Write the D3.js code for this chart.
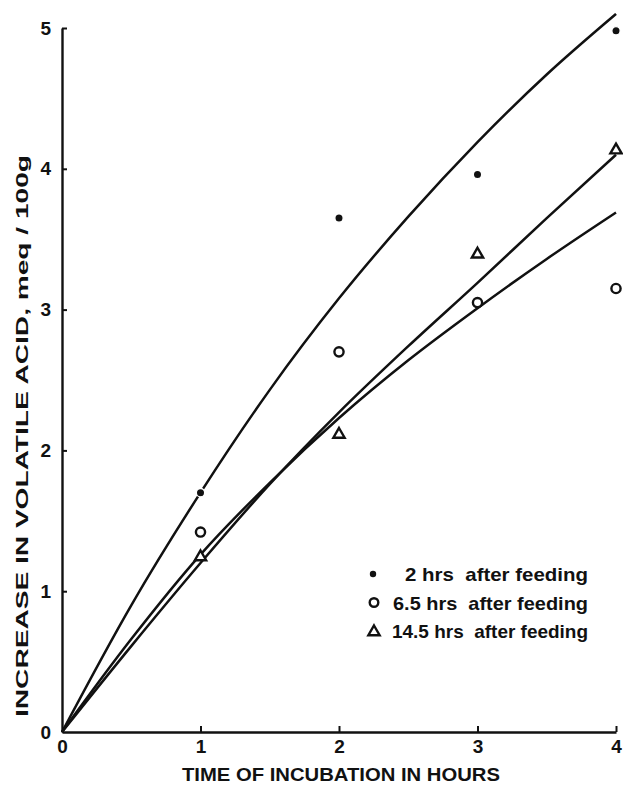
<!DOCTYPE html>
<html>
<head>
<meta charset="utf-8">
<script src="https://cdn.jsdelivr.net/npm/d3@7"></script>
<style>
  body { margin: 0; background: #fff; }
  text { font-family: "Liberation Sans", Arial, sans-serif; font-weight: bold; fill: #111; }
</style>
</head>
<body>
<svg id="svg" width="623" height="785"></svg>
<script>
// observed points
const hours = [1, 2, 3, 4]
const fed2 = [1.70, 3.65, 3.96, 4.98]
const fed65 = [1.42, 2.70, 3.05, 3.15]
const fed145 = [1.25, 2.12, 3.40, 4.14]

const curveHours = [0, 0.5, 1, 1.5, 2, 2.5, 3, 3.5, 4]
const curve2 = [0, 0.90, 1.70, 2.43, 3.08, 3.66, 4.19, 4.67, 5.10]
const curve65 = [0, 0.66, 1.26, 1.77, 2.23, 2.64, 3.01, 3.36, 3.69]
const curve145 = [0, 0.61, 1.20, 1.76, 2.27, 2.74, 3.19, 3.65, 4.10]

const xTicks = [0, 1, 2, 3, 4]
const yTicks = [0, 1, 2, 3, 4, 5]
const legendLabels = ['2 hrs  after feeding', '6.5 hrs  after feeding', '14.5 hrs  after feeding']

const margin = { top: 28, right: 7, bottom: 53, left: 62 }
const width = 623 - (margin.left + margin.right)
const height = 785 - (margin.top + margin.bottom)

const svg = d3.select('#svg')
const g = svg.append('g').attr('transform', `translate(${margin.left}, ${margin.top})`)

const xscale = d3.scaleLinear().domain([0, 4]).range([0, width])
const yscale = d3.scaleLinear().domain([0, 5]).range([height, 0])

// axes, ticks pointing inwards
const bottomAxis = d3.axisBottom(xscale).tickValues(xTicks).tickFormat(d3.format('d'))
  .tickSizeInner(-6).tickSizeOuter(0).tickPadding(7)
const xg = g.append('g').attr('transform', `translate(0, ${height})`).call(bottomAxis)
const leftAxis = d3.axisLeft(yscale).tickValues(yTicks).tickFormat(d3.format('d'))
  .tickSizeInner(-5).tickSizeOuter(0).tickPadding(11)
const yg = g.append('g').call(leftAxis)

for (const ax of [xg, yg]) {
  ax.select('.domain').attr('stroke', '#111').attr('stroke-width', 2.4)
  ax.selectAll('.tick line').attr('stroke', '#111').attr('stroke-width', 2)
  ax.selectAll('.tick text').attr('font-size', 19).attr('font-family', '"Liberation Sans", Arial, sans-serif').attr('font-weight', 'bold').attr('fill', '#111')
}
xg.selectAll('.tick text').attr('dy', '0.75em')
xg.selectAll('.tick').filter(d => d === 0).select('line').remove()
yg.selectAll('.tick').filter(d => d === 0).select('line').remove()

// curves
const line = d3.line()
  .x((d, i) => xscale(curveHours[i]))
  .y(d => yscale(d))
  .curve(d3.curveMonotoneX)

for (const c of [curve2, curve65, curve145]) {
  g.append('path')
    .datum(c)
    .attr('d', line)
    .attr('fill', 'none')
    .attr('stroke', '#111')
    .attr('stroke-width', 2.5)
}

// markers
const tri = d3.symbol().type(d3.symbolTriangle).size(55)

g.selectAll('.dot')
  .data(fed2)
  .enter()
  .append('circle')
  .attr('class', 'dot')
  .attr('cx', (d, i) => xscale(hours[i]))
  .attr('cy', d => yscale(d))
  .attr('r', 4.2)
  .attr('fill', '#111')
  .attr('stroke', '#fff')
  .attr('stroke-width', 1.4)

g.selectAll('.ring')
  .data(fed65)
  .enter()
  .append('circle')
  .attr('class', 'ring')
  .attr('cx', (d, i) => xscale(hours[i]))
  .attr('cy', d => yscale(d))
  .attr('r', 4.6)
  .attr('fill', '#fff')
  .attr('stroke', '#111')
  .attr('stroke-width', 2.4)

g.selectAll('.tri')
  .data(fed145)
  .enter()
  .append('path')
  .attr('class', 'tri')
  .attr('d', tri)
  .attr('transform', (d, i) => `translate(${xscale(hours[i])}, ${yscale(d) + 1})`)
  .attr('fill', '#fff')
  .attr('stroke', '#111')
  .attr('stroke-width', 2.4)

// legend
const legend = svg.append('g').attr('transform', 'translate(373, 574)')
const rowGap = 28.5
legend.append('circle').attr('cx', 0).attr('cy', 0).attr('r', 3.2).attr('fill', '#111')
legend.append('circle').attr('cx', 1).attr('cy', rowGap).attr('r', 4.3).attr('fill', 'none').attr('stroke', '#111').attr('stroke-width', 2.4)
legend.append('path').attr('d', tri).attr('transform', `translate(1, ${rowGap * 2 + 1})`).attr('fill', 'none').attr('stroke', '#111').attr('stroke-width', 2.4)

const textStarts = [32, 20, 19]
const textWidths = [183, 195, 196]
legend.selectAll('.lab')
  .data(legendLabels)
  .enter()
  .append('text')
  .attr('class', 'lab')
  .attr('x', (d, i) => textStarts[i])
  .attr('y', (d, i) => i * rowGap + 7)
  .attr('font-size', 19)
  .attr('textLength', (d, i) => textWidths[i])
  .attr('lengthAdjust', 'spacingAndGlyphs')
  .attr('xml:space', 'preserve')
  .text(d => d)

// axis titles
svg.append('text')
  .attr('x', 341)
  .attr('y', 781)
  .attr('text-anchor', 'middle')
  .attr('font-size', 18)
  .attr('textLength', 318)
  .attr('lengthAdjust', 'spacingAndGlyphs')
  .text('TIME OF INCUBATION IN HOURS')

svg.append('text')
  .attr('transform', 'translate(28, 436) rotate(-90)')
  .attr('text-anchor', 'middle')
  .attr('font-size', 17)
  .attr('textLength', 562)
  .attr('lengthAdjust', 'spacingAndGlyphs')
  .text('INCREASE IN VOLATILE ACID, meq / 100g')
</script>
</body>
</html>
